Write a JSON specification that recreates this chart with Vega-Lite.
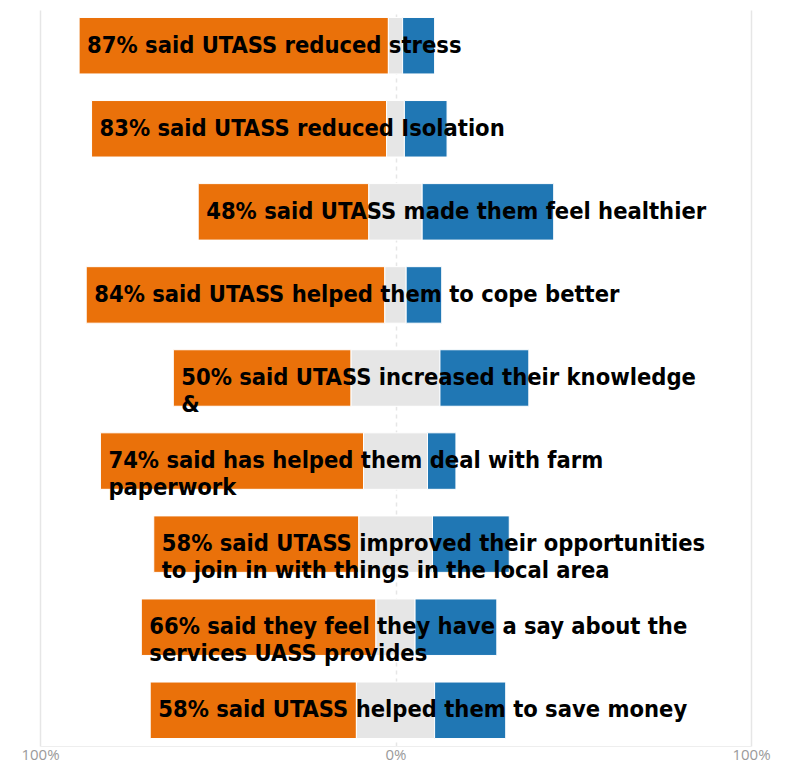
{
  "$schema": "https://vega.github.io/schema/vega-lite/v6.json",
  "width": 711,
  "height": 736,
  "autosize": {"type": "none"},
  "padding": {"left": 40, "top": 10, "right": 38, "bottom": 18},
  "background": "white",
  "config": {"view": {"stroke": null}},
  "data": {
    "values": [
      {"q": "q1", "response": "Agree", "pct": 87, "start": -89, "end": -2, "label": "87% said UTASS reduced stress"},
      {"q": "q1", "response": "Neutral", "pct": 4, "start": -2, "end": 2},
      {"q": "q1", "response": "Disagree", "pct": 9, "start": 2, "end": 11},
      {"q": "q2", "response": "Agree", "pct": 83, "start": -85.5, "end": -2.5, "label": "83% said UTASS reduced Isolation"},
      {"q": "q2", "response": "Neutral", "pct": 5, "start": -2.5, "end": 2.5},
      {"q": "q2", "response": "Disagree", "pct": 12, "start": 2.5, "end": 14.5},
      {"q": "q3", "response": "Agree", "pct": 48, "start": -55.5, "end": -7.5, "label": "48% said UTASS made them feel healthier"},
      {"q": "q3", "response": "Neutral", "pct": 15, "start": -7.5, "end": 7.5},
      {"q": "q3", "response": "Disagree", "pct": 37, "start": 7.5, "end": 44.5},
      {"q": "q4", "response": "Agree", "pct": 84, "start": -87, "end": -3, "label": "84% said UTASS helped them to cope better"},
      {"q": "q4", "response": "Neutral", "pct": 6, "start": -3, "end": 3},
      {"q": "q4", "response": "Disagree", "pct": 10, "start": 3, "end": 13},
      {"q": "q5", "response": "Agree", "pct": 50, "start": -62.5, "end": -12.5, "label": ["50% said UTASS increased their knowledge", "&"]},
      {"q": "q5", "response": "Neutral", "pct": 25, "start": -12.5, "end": 12.5},
      {"q": "q5", "response": "Disagree", "pct": 25, "start": 12.5, "end": 37.5},
      {"q": "q6", "response": "Agree", "pct": 74, "start": -83, "end": -9, "label": ["74% said has helped them deal with farm", "paperwork"]},
      {"q": "q6", "response": "Neutral", "pct": 18, "start": -9, "end": 9},
      {"q": "q6", "response": "Disagree", "pct": 8, "start": 9, "end": 17},
      {"q": "q7", "response": "Agree", "pct": 58, "start": -68, "end": -10.3, "label": ["58% said UTASS improved their opportunities", "to join in with things in the local area"]},
      {"q": "q7", "response": "Neutral", "pct": 21, "start": -10.3, "end": 10.4},
      {"q": "q7", "response": "Disagree", "pct": 21, "start": 10.4, "end": 32},
      {"q": "q8", "response": "Agree", "pct": 66, "start": -71.5, "end": -5.5, "label": ["66% said they feel they have a say about the", "services UASS provides"]},
      {"q": "q8", "response": "Neutral", "pct": 11, "start": -5.5, "end": 5.5},
      {"q": "q8", "response": "Disagree", "pct": 23, "start": 5.5, "end": 28.5},
      {"q": "q9", "response": "Agree", "pct": 58, "start": -69, "end": -11, "label": "58% said UTASS helped them to save money"},
      {"q": "q9", "response": "Neutral", "pct": 22, "start": -11, "end": 11},
      {"q": "q9", "response": "Disagree", "pct": 20, "start": 11, "end": 31}
    ]
  },
  "encoding": {
    "y": {
      "field": "q",
      "type": "nominal",
      "sort": null,
      "axis": null,
      "scale": {"paddingInner": 0.32, "paddingOuter": 0.09}
    }
  },
  "layer": [
    {
      "mark": {"type": "bar", "stroke": "white", "strokeWidth": 1},
      "encoding": {
        "x": {
          "field": "start",
          "type": "quantitative",
          "scale": {"domain": [-100, 100]},
          "axis": {
            "values": [-100, 0, 100],
            "labelExpr": "abs(datum.value) + '%'",
            "title": null,
            "ticks": false,
            "grid": true,
            "gridColor": "#e6e6e6",
            "gridWidth": 1.5,
            "gridDash": {"condition": {"test": "datum.value === 0", "value": [4, 4]}, "value": []},
            "domainColor": "#eeeeee",
            "labelFlush": false,
            "labelPadding": 1,
            "labelFont": "Open Sans",
            "labelFontSize": 15,
            "labelColor": "#9a9a9a"
          }
        },
        "x2": {"field": "end"},
        "color": {
          "field": "response",
          "type": "nominal",
          "scale": {"domain": ["Agree", "Neutral", "Disagree"], "range": ["#EA710A", "#E6E6E6", "#2077B4"]},
          "legend": null
        }
      }
    },
    {
      "transform": [{"filter": "datum.label != null"}],
      "mark": {
        "type": "text",
        "align": "left",
        "baseline": "middle",
        "dx": 8,
        "font": "DejaVu Sans Condensed",
        "fontWeight": "bold",
        "fontSize": 23.5,
        "lineHeight": 27,
        "color": "black"
      },
      "encoding": {
        "x": {"field": "start", "type": "quantitative"},
        "text": {"field": "label"}
      }
    }
  ]
}
